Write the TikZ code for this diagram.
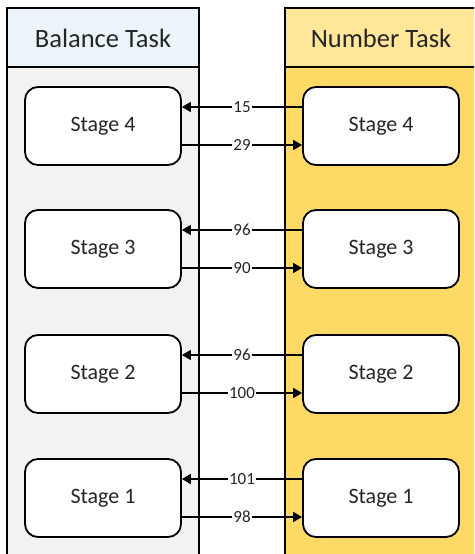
\documentclass[tikz,border=0pt]{standalone}
\usepackage{fontspec}
\setmainfont{Carlito}
\usetikzlibrary{arrows.meta}
\definecolor{lhead}{HTML}{EBF5F9}
\definecolor{lbody}{HTML}{F2F2F2}
\definecolor{rhead}{HTML}{FFE699}
\definecolor{rbody}{HTML}{FFD966}
\tikzset{
  pool/.style={draw=black, line width=1.5pt},
  stagebox/.style={draw=black, fill=white, line width=1.8pt, rounded corners=13pt,
    minimum width=156pt, minimum height=78pt, inner sep=0pt,
    font=\fontsize{22}{25}\selectfont, text=black!85},
  headtext/.style={font=\fontsize{26.5}{29}\selectfont, text=black!85},
  flow/.style={line width=1.6pt, -{Triangle[length=9pt,width=10pt]}},
  lbl/.style={fill=white, inner sep=1pt, font=\fontsize{17}{19}\selectfont, text=black!85}
}
\begin{document}
\begin{tikzpicture}[x=1pt,y=-1pt]
\useasboundingbox (0,0) rectangle (474,554);
\clip (0,0) rectangle (474,554);
% pools
\fill[lbody] (7,67) rectangle (199,570);
\fill[lhead] (7,8) rectangle (199,67);
\draw[pool] (7,570) -- (7,8) -- (199,8) -- (199,570);
\draw[pool] (7,67) -- (199,67);
\fill[rbody] (285,67) rectangle (480,570);
\fill[rhead] (285,8) rectangle (480,67);
\draw[pool] (285,570) -- (285,8) -- (480,8);
\draw[pool] (285,67) -- (480,67);
\node[headtext] (bt) at (103,38) {Balance Task};
\node[headtext] (nt) at (381,38) {Number Task};
% stages
\foreach \i/\y in {4/126,3/249,2/374,1/498}{
  \node[stagebox] (L\i) at (103,\y) {Stage \i};
  \node[stagebox] (R\i) at (381,\y) {Stage \i};
}
\foreach \i/\a/\b in {4/15/29,3/96/90,2/96/100,1/101/98}{
  \draw[flow] ([yshift=19pt]R\i.west) -- node[lbl]{\a} ([yshift=19pt]L\i.east);
  \draw[flow] ([yshift=-19pt]L\i.east) -- node[lbl]{\b} ([yshift=-19pt]R\i.west);
}
\end{tikzpicture}
\end{document}
